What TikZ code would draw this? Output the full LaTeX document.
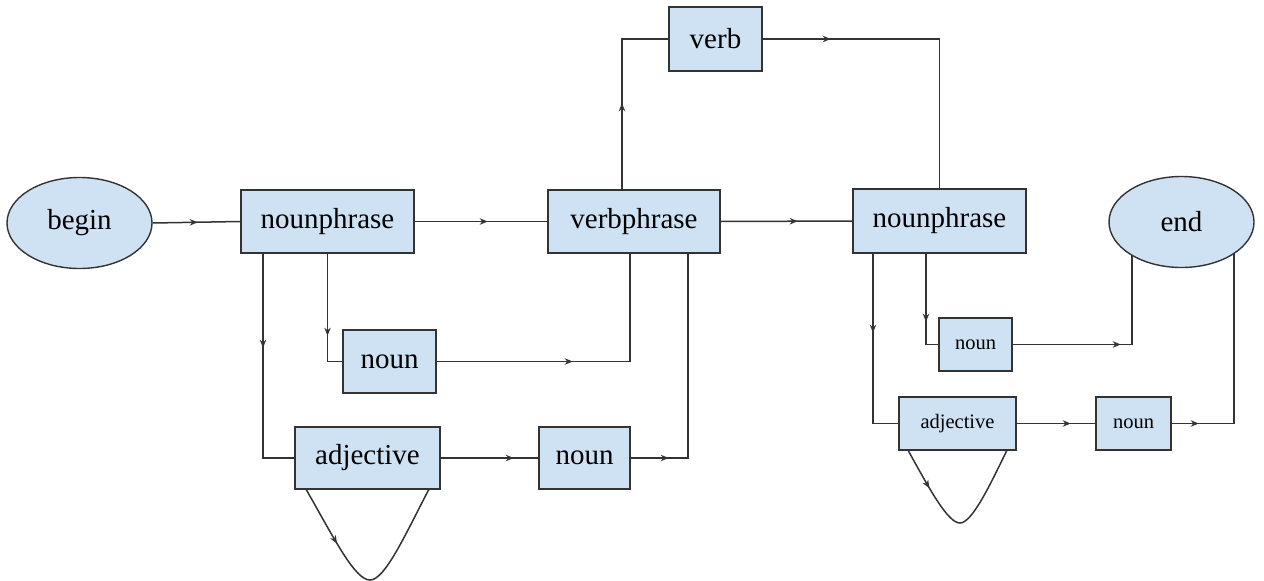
\documentclass[tikz,border=0pt]{standalone}
\usepackage{fontspec}
\setmainfont{Liberation Serif}
\usetikzlibrary{shapes.geometric,arrows.meta,decorations.markings,calc}
\pgfdeclarelayer{background}
\pgfsetlayers{background,main}
\definecolor{boxfill}{HTML}{CFE2F3}
\definecolor{ink}{HTML}{333333}
\tikzset{
  stepbox/.style={draw=ink, fill=boxfill, line width=1.4pt, rectangle, inner sep=0pt,
    font=\fontsize{29}{34}\selectfont},
  smallbox/.style={stepbox, font=\fontsize{20.5}{24}\selectfont},
  terminal/.style={draw=ink, fill=boxfill, line width=1.4pt, ellipse, inner sep=0pt,
    minimum width=145pt, minimum height=91pt, font=\fontsize{29}{34}\selectfont},
  conn/.style={draw=ink, line width=1.5pt},
  midtip/.style={postaction={decorate}, decoration={markings,
    mark=at position #1 with {\arrow{Stealth[length=8pt,width=6.5pt]}}}}
}
\begin{document}
\begin{tikzpicture}[x=1pt,y=-1pt]
\useasboundingbox (0,0) rectangle (1264,581);

% states
\node[terminal] (begin) at (79.5,223) {begin};
\node[terminal] (end) at (1181.5,222) {end};
\node[stepbox, minimum width=173pt, minimum height=63pt] (np1) at (327.5,221.5) {nounphrase};
\node[stepbox, minimum width=172pt, minimum height=63pt] (vp) at (634,221.5) {verbphrase};
\node[stepbox, minimum width=93pt, minimum height=64pt] (verb) at (715.5,39) {verb};
\node[stepbox, minimum width=173pt, minimum height=64pt] (np2) at (939.5,221) {nounphrase};
\node[stepbox, minimum width=93pt, minimum height=63pt] (noun1) at (389.5,361.5) {noun};
\node[stepbox, minimum width=145pt, minimum height=62pt] (adj1) at (367.5,458) {adjective};
\node[stepbox, minimum width=91pt, minimum height=62pt] (noun2) at (584.5,458) {noun};
\node[smallbox, minimum width=73pt, minimum height=53pt] (noun3) at (975.5,344.5) {noun};
\node[smallbox, minimum width=117pt, minimum height=53pt] (adj2) at (957.5,423.5) {adjective};
\node[smallbox, minimum width=75pt, minimum height=53pt] (noun4) at (1133.5,423.5) {noun};

% transitions
\begin{pgfonlayer}{background}
\draw[conn, midtip=45pt] (begin.east) -- (np1.west);
\draw[conn, midtip=73pt] (np1.east) -- (vp.west);
\draw[conn, midtip=77pt] (vp.east) -- (np2.west);
\draw[conn, midtip=86pt] ([xshift=-12pt]vp.north) |- (verb.west);
\draw[conn, midtip=68pt] (verb.east) -| (np2.north);

\draw[conn, midtip=94pt] ([xshift=-64.5pt]np1.south) |- (adj1.west);
\draw[conn, midtip=82pt] (np1.south) |- (noun1.west);
\draw[conn, midtip=136pt] (noun1.east) -| ([xshift=-4pt]vp.south);
\draw[conn, midtip=73pt] (adj1.east) -- (noun2.west);
\draw[conn, midtip=38pt] (noun2.east) -| ([xshift=54pt]vp.south);
\draw[conn, midtip=62pt] ($(adj1.south west)+(12,0)$)
  .. controls (335,540) and (355,580) .. (370,580)
  .. controls (385,580) and (405,535) .. ($(adj1.south east)+(-12,0)$);

\draw[conn, midtip=79pt] ([xshift=-66.5pt]np2.south) |- (adj2.west);
\draw[conn, midtip=68pt] ([xshift=-13.5pt]np2.south) |- (noun3.west);
\draw[conn, midtip=108pt] (noun3.east) -| ([xshift=-49.5pt]end.center);
\draw[conn, midtip=54pt] (adj2.east) -- (noun4.west);
\draw[conn, midtip=27pt] (noun4.east) -| ([xshift=52.5pt]end.center);
\draw[conn, midtip=43pt] ($(adj2.south west)+(10,0)$)
  .. controls (930,490) and (948,523) .. (960,523)
  .. controls (972,523) and (990,485) .. ($(adj2.south east)+(-10,0)$);
\end{pgfonlayer}
\end{tikzpicture}
\end{document}
